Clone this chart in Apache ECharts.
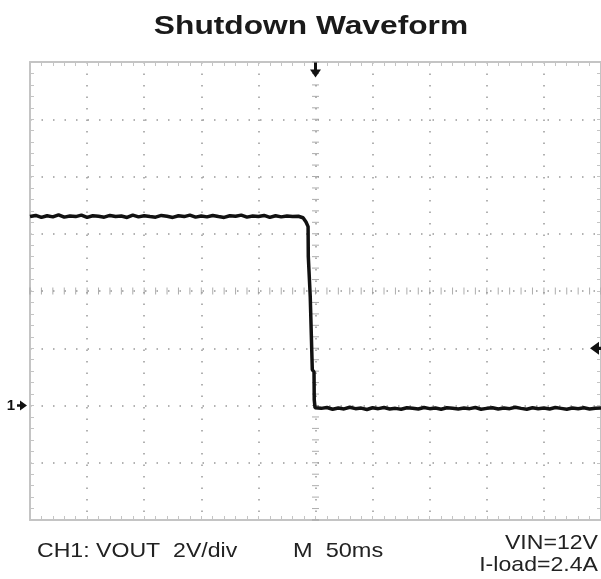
<!DOCTYPE html>
<html>
<head>
<meta charset="utf-8">
<script src="https://cdn.jsdelivr.net/npm/echarts@6/dist/echarts.min.js"></script>
<style>
  html, body { margin: 0; padding: 0; background: #fff; }
  #chart { width: 601px; height: 579px; }
</style>
</head>
<body>
<div id="chart"></div>
<script>
// scope settings: 50 ms/div horizontally, 2 V/div vertically, trigger at centre
const timeRange = [-250, 250];
const voltRange = [-4, 12];
const timeDiv = 50;
const voltDiv = 2;
const sampleStepMs = 5;

// VOUT before the shutdown, read every 5 ms from -250 ms
const highStartMs = -250;
const highLevelV = [
    6.60, 6.64, 6.57, 6.63, 6.59, 6.66, 6.58, 6.62, 6.60, 6.65,
    6.57, 6.63, 6.61, 6.58, 6.64, 6.60, 6.62, 6.57, 6.65, 6.59,
    6.63, 6.60, 6.58, 6.64, 6.61, 6.57, 6.63, 6.60, 6.65, 6.58,
    6.62, 6.59, 6.64, 6.60, 6.57, 6.63, 6.61, 6.65, 6.58, 6.62,
    6.60, 6.64, 6.57, 6.63, 6.59, 6.62, 6.60, 6.61
];

// the falling edge (stair-stepped on the scope)
const edgeTimeMs = [-10.9, -8.3, -6.5, -6.3, -4.8, -4.6, -3.0, -2.8, -1.3, -1.1, -0.4];
const edgeVoltV = [6.56, 6.41, 6.25, 5.20, 5.15, 3.80, 3.75, 1.25, 1.17, 0.20, -0.08];

// VOUT after the shutdown, read every 5 ms from 5 ms
const lowStartMs = 5;
const lowLevelV = [
    -0.10, -0.07, -0.13, -0.09, -0.12, -0.06, -0.11, -0.09, -0.14, -0.08,
    -0.11, -0.07, -0.12, -0.10, -0.13, -0.08, -0.10, -0.12, -0.07, -0.11,
    -0.09, -0.13, -0.08, -0.10, -0.12, -0.09, -0.11, -0.07, -0.13, -0.10,
    -0.08, -0.12, -0.09, -0.11, -0.06, -0.10, -0.13, -0.08, -0.11, -0.09,
    -0.12, -0.07, -0.10, -0.13, -0.09, -0.11, -0.08, -0.12, -0.10, -0.09
];

const triggerLevelV = 2;
const groundLevelV = 0;

const trace = [];
highLevelV.forEach((v, i) => trace.push([highStartMs + i * sampleStepMs, v]));
edgeTimeMs.forEach((t, i) => trace.push([t, edgeVoltV[i]]));
lowLevelV.forEach((v, i) => trace.push([lowStartMs + i * sampleStepMs, v]));

// little tick marks along the centre cross-hair, one per minor division
const centreX = (timeRange[0] + timeRange[1]) / 2;
const centreY = (voltRange[0] + voltRange[1]) / 2;
const hTicks = [];
for (let t = timeRange[0]; t <= timeRange[1]; t += timeDiv / 5) hTicks.push([t, centreY]);
const vTicks = [];
for (let v = voltRange[0]; v <= voltRange[1] + 1e-9; v += voltDiv / 5) vTicks.push([centreX, +v.toFixed(2)]);

const gridColor = '#999';
const borderColor = '#c4c4c4';
const dots = { color: gridColor, width: 1.5, type: [1.5, 10] };

function frameAxis(extra) {
    return Object.assign({
        type: 'value',
        axisLine: { show: true, onZero: false, lineStyle: { color: borderColor, width: 2 } },
        axisTick: { show: true, inside: true, length: 4, lineStyle: { color: borderColor } },
        minorTick: { show: true, splitNumber: 5, length: 4, lineStyle: { color: borderColor } },
        axisLabel: { show: false },
        splitLine: { show: false }
    }, extra);
}

const chart = echarts.init(document.getElementById('chart'));

const textColor = '#222';

chart.setOption({
    animation: false,
    backgroundColor: '#fff',
    grid: { left: 30, top: 62, width: 575, height: 458, show: false },
    xAxis: [
        frameAxis({ min: timeRange[0], max: timeRange[1], interval: timeDiv, position: 'bottom',
            splitLine: { show: true, lineStyle: dots } }),
        frameAxis({ min: timeRange[0], max: timeRange[1], interval: timeDiv, position: 'top' })
    ],
    yAxis: [
        frameAxis({ min: voltRange[0], max: voltRange[1], interval: voltDiv, position: 'left',
            splitLine: { show: true, lineStyle: dots } }),
        frameAxis({ min: voltRange[0], max: voltRange[1], interval: voltDiv, position: 'right' })
    ],
    series: [
        {
            type: 'scatter',
            silent: true,
            symbol: 'rect',
            symbolSize: [1, 7],
            itemStyle: { color: gridColor },
            data: hTicks,
            z: 1
        },
        {
            type: 'scatter',
            silent: true,
            symbol: 'rect',
            symbolSize: [7, 1],
            itemStyle: { color: gridColor },
            data: vTicks,
            z: 1
        },
        {
            name: 'VOUT',
            type: 'line',
            data: trace,
            showSymbol: false,
            lineStyle: { color: '#111', width: 3.5 },
            z: 5,
            markPoint: {
                silent: true,
                label: { show: false },
                data: [
                    {   // trigger position
                        coord: [0, voltRange[1]],
                        symbol: 'path://M4,0 L7,0 L7,7 L11,7 L5.5,15 L0,7 L4,7 Z',
                        symbolSize: [11, 15],
                        symbolOffset: [0, 8],
                        itemStyle: { color: '#111' }
                    },
                    {   // trigger level
                        coord: [timeRange[1], triggerLevelV],
                        symbol: 'path://M0,6 L9,0 L9,4.5 L12,4.5 L12,7.5 L9,7.5 L9,12 Z',
                        symbolSize: [12, 13],
                        symbolOffset: [-5, 0],
                        itemStyle: { color: '#111' }
                    },
                    {   // channel 1 ground reference
                        coord: [timeRange[0], groundLevelV],
                        symbol: 'path://M0,4.5 L3,4.5 L3,0 L10,6 L3,12 L3,7.5 L0,7.5 Z',
                        symbolSize: [10, 10],
                        symbolOffset: [-8, 0],
                        itemStyle: { color: '#111' },
                        label: {
                            show: true, formatter: '1', position: 'left', distance: 2,
                            color: '#111', fontSize: 15, fontWeight: 'bold',
                            fontFamily: 'Liberation Sans, Arial, sans-serif'
                        }
                    }
                ]
            }
        }
    ],
    graphic: [
        {
            type: 'text', x: 311, y: 27, scaleX: 1.22,
            style: { text: 'Shutdown Waveform', fill: '#1a1a1a',
                font: 'bold 26px "Liberation Sans", Arial, sans-serif',
                textAlign: 'center', textVerticalAlign: 'middle' }
        },
        {
            type: 'text', x: 37, y: 551, scaleX: 1.1,
            style: { text: 'CH1: VOUT  2V/div', fill: textColor,
                font: '21px "Liberation Sans", Arial, sans-serif',
                textAlign: 'left', textVerticalAlign: 'middle' }
        },
        {
            type: 'text', x: 293, y: 551, scaleX: 1.12,
            style: { text: 'M  50ms', fill: textColor,
                font: '21px "Liberation Sans", Arial, sans-serif',
                textAlign: 'left', textVerticalAlign: 'middle' }
        },
        {
            type: 'text', x: 598, y: 543, scaleX: 1.1,
            style: { text: 'VIN=12V', fill: textColor,
                font: '21px "Liberation Sans", Arial, sans-serif',
                textAlign: 'right', textVerticalAlign: 'middle' }
        },
        {
            type: 'text', x: 598, y: 565, scaleX: 1.1,
            style: { text: 'I-load=2.4A', fill: textColor,
                font: '21px "Liberation Sans", Arial, sans-serif',
                textAlign: 'right', textVerticalAlign: 'middle' }
        }
    ]
});
</script>
</body>
</html>
